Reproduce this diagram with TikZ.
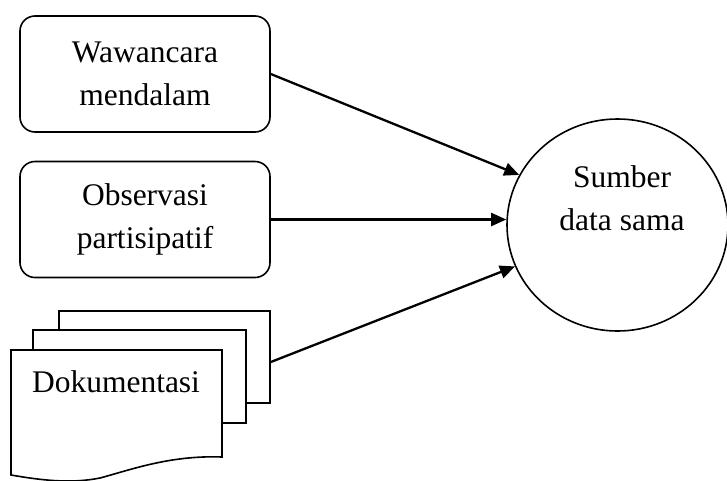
\documentclass[tikz,border=0pt]{standalone}
\usepackage{fontspec}
\setmainfont{Liberation Serif}
\usetikzlibrary{shapes.geometric,arrows.meta}
\begin{document}
\begin{tikzpicture}[x=1pt,y=-1pt,
  txt/.style={font=\fontsize{31.5}{43}\selectfont, align=center},
  rbox/.style={draw, line width=1.6pt, rounded corners=15pt, minimum width=250pt, minimum height=116pt, inner sep=0pt, txt},
  page/.style={draw, line width=1.6pt, fill=white, inner sep=0pt},
  conn/.style={line width=2.3pt, -{Triangle[length=15pt,width=13pt]}}]
\useasboundingbox (0,0) rectangle (727,480);
\node[rbox] (b1) at (145,74) {Wawancara\\mendalam};
\node[rbox] (b2) at (145,219.5) {Observasi\\partisipatif};
\node[page, minimum width=211pt, minimum height=92pt] (p3) at (164.5,357) {};
\node[page, minimum width=213pt, minimum height=93pt] (p2) at (139.5,376.5) {};
\draw[line width=1.6pt, fill=white] (11,350) -- (222,350) -- (222,457)
  .. controls (170,455) and (130,470) .. (100,478)
  .. controls (70,484) and (40,480) .. (11,475) -- cycle;
\node[txt, anchor=base] (p1) at (116,392) {Dokumentasi};
\node[draw, line width=1.6pt, ellipse, minimum width=221pt, minimum height=212pt, inner sep=0pt] (e) at (617.5,225) {};
\node[txt] (et) at (622,198) {Sumber\\data sama};
\draw[conn] (b1.east) -- (e.153.9);
\draw[conn] (b2.east) -- (b2.east -| e.west);
\draw[conn] ([yshift=-5pt]p3.east) -- (e.202.8);
\end{tikzpicture}
\end{document}
